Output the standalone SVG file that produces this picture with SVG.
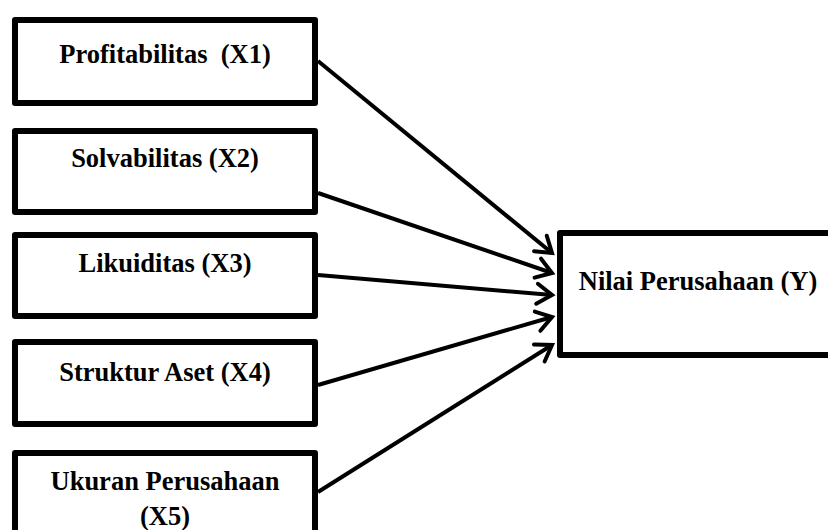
<svg xmlns="http://www.w3.org/2000/svg" width="828" height="530" viewBox="0 0 828 530">
<style>
.box{fill:#fff;stroke:#000;stroke-width:6;stroke-linejoin:round}
.t{font-family:"Liberation Serif","Times New Roman",serif;font-weight:bold;font-size:26.5px;fill:#000;text-anchor:middle;white-space:pre}
.c{stroke:#000;stroke-width:4;fill:none}
</style>
<defs>
<marker id="ah" markerUnits="userSpaceOnUse" markerWidth="30" markerHeight="30" viewBox="-20 -15 30 30" refX="0" refY="0" orient="auto">
<path d="M-15,-10 L0,0 L-15,10" fill="none" stroke="#000" stroke-width="4" stroke-linecap="round" stroke-linejoin="miter"/>
</marker>
</defs>
<rect width="828" height="530" fill="#fff"/>
<g id="connectors">
<line class="c" x1="318" y1="61" x2="552" y2="253" marker-end="url(#ah)"/>
<line class="c" x1="318" y1="193" x2="552" y2="273" marker-end="url(#ah)"/>
<line class="c" x1="318" y1="275" x2="552" y2="295" marker-end="url(#ah)"/>
<line class="c" x1="318" y1="385" x2="552" y2="317" marker-end="url(#ah)"/>
<line class="c" x1="318" y1="492" x2="552" y2="345" marker-end="url(#ah)"/>
</g>
<g id="x1"><rect class="box" x="15" y="20" width="300" height="83"/><text class="t" x="165" y="63" xml:space="preserve">Profitabilitas  (X1)</text></g>
<g id="x2"><rect class="box" x="15" y="131" width="300" height="81"/><text class="t" x="165" y="167">Solvabilitas (X2)</text></g>
<g id="x3"><rect class="box" x="15" y="235" width="300" height="81"/><text class="t" x="165" y="272">Likuiditas (X3)</text></g>
<g id="x4"><rect class="box" x="15" y="342" width="300" height="82"/><text class="t" x="165" y="381">Struktur Aset (X4)</text></g>
<g id="x5"><rect class="box" x="15" y="453" width="300" height="100"/><text class="t" x="165" y="490">Ukuran Perusahaan</text><text class="t" x="165" y="525">(X5)</text></g>
<g id="y"><rect class="box" x="560" y="233" width="300" height="122"/><text class="t" x="698" y="290">Nilai Perusahaan (Y)</text></g>
</svg>
